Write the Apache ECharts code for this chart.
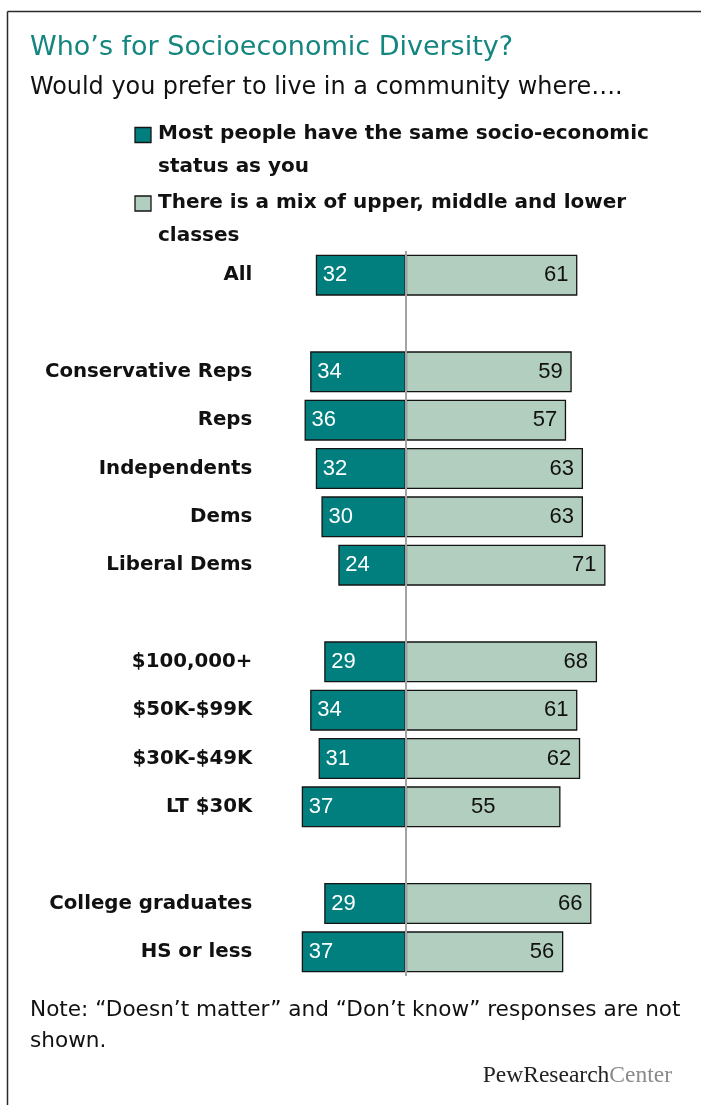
<!DOCTYPE html>
<html>
<head>
<meta charset="utf-8">
<title>Who's for Socioeconomic Diversity?</title>
<script src="https://cdn.jsdelivr.net/npm/echarts@6/dist/echarts.min.js"></script>
<style>
  html, body { margin: 0; padding: 0; background: #ffffff; }
  #chart { width: 701px; height: 1105px; }
</style>
</head>
<body>
<div id="chart"></div>
<script>
// Survey groups, top to bottom; blank entries are spacer rows between blocks
const categories = [
  'All', ' ',
  'Conservative Reps', 'Reps', 'Independents', 'Dems', 'Liberal Dems', '  ',
  '$100,000+', '$50K-$99K', '$30K-$49K', 'LT $30K', '   ',
  'College graduates', 'HS or less'
];
// Percent preferring a community of the same socio-economic status
const sameStatus = [32, null, 34, 36, 32, 30, 24, null, 29, 34, 31, 37, null, 29, 37];
// Percent preferring a mix of upper, middle and lower classes
const mixedClasses = [61, null, 59, 57, 63, 63, 71, null, 68, 61, 62, 55, null, 66, 56];

const seriesNames = [
  'Most people have the same socio-economic status as you',
  'There is a mix of upper, middle and lower classes'
];

const TEAL = '#007f7e';
const SAGE = '#b2cebf';
const EDGE = '#141414';

const chart = echarts.init(document.getElementById('chart'), null, { renderer: 'canvas' });

const labelFont = { fontFamily: 'Liberation Sans', fontSize: 22 };
const legendFont = 'bold 20px "DejaVu Sans"';

const option = {
  backgroundColor: '#ffffff',
  animation: false,
  grid: { left: 293.3, right: 70.2, top: 251, bottom: 129, containLabel: false },
  xAxis: {
    type: 'value', min: -40, max: 80, show: false
  },
  yAxis: {
    type: 'category',
    inverse: true,
    data: categories,
    axisLine: { show: false },
    axisTick: { show: false },
    splitLine: { show: false },
    axisLabel: {
      margin: 41,
      color: '#111111',
      fontFamily: 'DejaVu Sans',
      fontWeight: 'bold',
      fontSize: 19.8
    }
  },
  series: [
    {
      name: seriesNames[0],
      type: 'bar',
      barWidth: 41,
      barGap: '-100%',
      data: sameStatus.map(v => (v == null ? null : -v)),
      itemStyle: { color: TEAL, borderColor: EDGE, borderWidth: 1.3 },
      label: {
        show: true,
        position: 'insideLeft',
        distance: 7,
        color: '#ffffff',
        ...labelFont,
        formatter: p => Math.abs(p.value)
      }
    },
    {
      name: seriesNames[1],
      type: 'bar',
      barWidth: 41,
      barGap: '-100%',
      data: mixedClasses.map((v, i) =>
        categories[i] === 'LT $30K' ? { value: v, label: { position: 'inside' } } : v),
      itemStyle: { color: SAGE, borderColor: EDGE, borderWidth: 1.3 },
      label: {
        show: true,
        position: 'insideRight',
        distance: 9,
        color: '#111111',
        ...labelFont
      },
      markLine: {
        silent: true,
        symbol: ['none', 'none'],
        label: { show: false },
        lineStyle: { color: '#a3a3a3', width: 2, type: 'solid' },
        data: [{ xAxis: 0 }]
      }
    }
  ],
  graphic: [
    // frame
    { type: 'line', shape: { x1: 7.5, y1: 11.5, x2: 701, y2: 11.5 }, style: { stroke: '#2a2a2a', lineWidth: 1.5 } },
    { type: 'line', shape: { x1: 7.5, y1: 11.5, x2: 7.5, y2: 1105 }, style: { stroke: '#2a2a2a', lineWidth: 1.5 } },
    // heading
    { type: 'text', style: { text: 'Who\u2019s for Socioeconomic Diversity?', x: 30, y: 48, fill: '#14867f',
        font: '27px "DejaVu Sans"', textVerticalAlign: 'middle' } },
    { type: 'text', style: { text: 'Would you prefer to live in a community where\u2026.', x: 30, y: 88, fill: '#111111',
        font: '23.9px "DejaVu Sans"', textVerticalAlign: 'middle' } },
    // legend
    { type: 'rect', shape: { x: 135, y: 127.5, width: 16, height: 15 }, style: { fill: TEAL, stroke: EDGE, lineWidth: 1.3 } },
    { type: 'text', style: { text: 'Most people have the same socio-economic', x: 158, y: 134, fill: '#111111',
        font: legendFont, textVerticalAlign: 'middle' } },
    { type: 'text', style: { text: 'status as you', x: 158, y: 167, fill: '#111111',
        font: legendFont, textVerticalAlign: 'middle' } },
    { type: 'rect', shape: { x: 135, y: 196, width: 16, height: 15 }, style: { fill: SAGE, stroke: EDGE, lineWidth: 1.3 } },
    { type: 'text', style: { text: 'There is a mix of upper, middle and lower', x: 158, y: 203, fill: '#111111',
        font: legendFont, textVerticalAlign: 'middle' } },
    { type: 'text', style: { text: 'classes', x: 158, y: 236, fill: '#111111',
        font: legendFont, textVerticalAlign: 'middle' } },
    // note
    { type: 'text', style: { text: 'Note: \u201cDoesn\u2019t matter\u201d and \u201cDon\u2019t know\u201d responses are not', x: 30, y: 1010,
        fill: '#111111', font: '21.6px "DejaVu Sans"', textVerticalAlign: 'middle' } },
    { type: 'text', style: { text: 'shown.', x: 30, y: 1041,
        fill: '#111111', font: '21.6px "DejaVu Sans"', textVerticalAlign: 'middle' } },
    // source mark
    { type: 'text', style: {
        text: '{a|PewResearch}{b|Center}', x: 672, y: 1076, textAlign: 'right', textVerticalAlign: 'middle',
        rich: {
          a: { fontFamily: 'Liberation Serif', fontSize: 23.5, fill: '#222222', color: '#222222' },
          b: { fontFamily: 'Liberation Serif', fontSize: 23.5, fill: '#8a8a8a', color: '#8a8a8a' }
        }
      } }
  ]
};

chart.setOption(option);
</script>
</body>
</html>
